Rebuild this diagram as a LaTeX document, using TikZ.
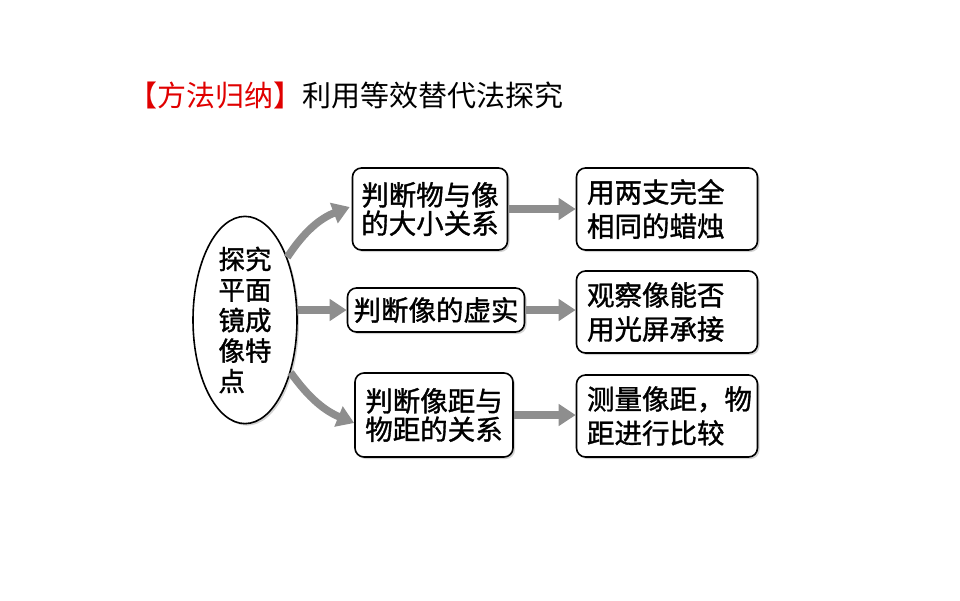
\documentclass[tikz,border=0pt]{standalone}
\usepackage{fontspec}
\setmainfont{Noto Sans CJK SC}
\newfontfamily\heiti{Noto Sans CJK SC}[FakeBold=1.2]
\usepackage{xcolor}
\usetikzlibrary{arrows.meta,positioning,shapes.geometric,shadows}
\definecolor{arrgray}{HTML}{8E8E8E}
\definecolor{titlered}{HTML}{E00000}

\begin{document}
\begin{tikzpicture}[x=1pt,y=-1pt,
  every node/.style={inner sep=0pt},
  box/.style={draw,line width=1.6pt,rounded corners=9pt,fill=white,align=center,
    font=\heiti\fontsize{27.5}{28.5}\selectfont,
    drop shadow={shadow xshift=2pt,shadow yshift=-2pt,opacity=.35}},
  rbox/.style={box,minimum width=181pt,minimum height=82pt,align=left,text width=160pt,
    font=\heiti\fontsize{27.5}{34}\selectfont},
  arr/.style={draw=arrgray,line width=7.5pt,-{Triangle[length=17pt,width=21pt]}}]
\useasboundingbox (0,0) rectangle (960,600);
\node[anchor=west,font=\fontsize{29}{30}\selectfont] (title) at (128,95)
  {\textcolor{titlered}{【方法归纳】}利用等效替代法探究};
\node[draw,ellipse,line width=1.6pt,fill=white,minimum width=104pt,minimum height=186pt,
  align=left,font=\heiti\fontsize{26.5}{30.5}\selectfont,
  drop shadow={shadow xshift=2pt,shadow yshift=-2pt,opacity=.35}] (el) at (245,320)
  {探究\\平面\\镜成\\像特\\点};
\node[box,minimum width=155pt,minimum height=82pt] (b1) at (430,209) {判断物与像\\的大小关系};
\node[box,minimum width=177pt,minimum height=44pt] (b2) at (436,310) {判断像的虚实};
\node[box,minimum width=158pt,minimum height=84pt] (b3) at (434,415) {判断像距与\\物距的关系};
\node[rbox] (r1) at (667,209) {用两支完全\\相同的蜡烛};
\node[rbox] (r2) at (667,312) {观察像能否\\用光屏承接};
\node[rbox] (r3) at (667,416) {测量像距，物\\距进行比较};
% arrows from the ellipse
\draw[arr] (el.56) to[bend left=18] ([shift={(-2,-2)}]b1.west);
\draw[arr] (el.east|-b2) -- (b2.west);
\draw[arr] (el.-49) to[bend right=16] ([shift={(0,8)}]b3.west);
% arrows to the right column
\draw[arr] (b1.east) -- (r1.west|-b1);
\draw[arr] (b2.east) -- (r2.west|-b2);
\draw[arr] (b3.east) -- (r3.west|-b3);
\end{tikzpicture}
\end{document}
